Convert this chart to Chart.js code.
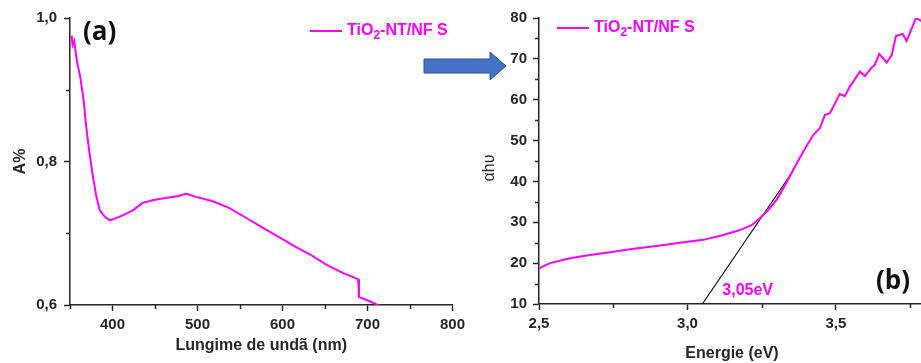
<!DOCTYPE html>
<html>
<head>
<meta charset="utf-8">
<script src="https://cdn.jsdelivr.net/npm/chart.js@4.4.1/dist/chart.umd.min.js"></script>
<style>
  body { margin: 0; background: #fff; }
  .wrap { position: relative; width: 921px; height: 363px; overflow: hidden; background: #fff; }
  #chartA { position: absolute; left: 0; top: 0; }
  #chartB { position: absolute; left: 460px; top: 0; }
  #arrow { position: absolute; left: 0; top: 0; pointer-events: none; }
</style>
</head>
<body>
<div class="wrap">
  <canvas id="chartA" width="470" height="363"></canvas>
  <canvas id="chartB" width="470" height="363"></canvas>
  <svg id="arrow" width="921" height="363">
    <polygon points="424,59 490,59 490,52 506,66 490,80 490,73 424,73" fill="#4472C4" stroke="#2F528F" stroke-width="1"/>
  </svg>
</div>
<script>
// (a) absorbance spectrum
const wavelength = [350, 352, 353, 355, 358, 362, 366, 369, 373, 377, 381, 385, 391, 397, 402, 412, 424, 435, 447, 462, 478, 486, 490, 497, 517, 536, 555, 575, 594, 614, 633, 652, 672, 689, 690, 699, 714];
const absorbance = [0.972, 0.974, 0.962, 0.968, 0.941, 0.918, 0.886, 0.849, 0.811, 0.779, 0.751, 0.732, 0.723, 0.718, 0.720, 0.725, 0.732, 0.742, 0.746, 0.749, 0.752, 0.755, 0.754, 0.751, 0.745, 0.736, 0.723, 0.709, 0.696, 0.682, 0.670, 0.656, 0.644, 0.636, 0.611, 0.607, 0.599];

// (b) Tauc plot
const energy = [2.50, 2.537, 2.604, 2.672, 2.750, 2.806, 2.896, 2.975, 3.053, 3.121, 3.177, 3.216, 3.244, 3.272, 3.300, 3.323, 3.356, 3.390, 3.424, 3.446, 3.463, 3.480, 3.513, 3.530, 3.547, 3.581, 3.598, 3.620, 3.631, 3.646, 3.671, 3.688, 3.702, 3.725, 3.738, 3.769, 3.783, 3.795];
const ahv = [18.7, 20.0, 21.2, 22.0, 22.8, 23.4, 24.2, 25.0, 25.7, 26.9, 28.1, 29.3, 31.0, 33.0, 35.5, 38.3, 42.8, 47.3, 51.4, 53.0, 56.3, 56.7, 61.4, 60.9, 63.2, 66.9, 65.8, 67.9, 68.5, 71.2, 69.1, 70.9, 75.6, 76.1, 74.4, 79.9, 79.5, 78.8];

// linear fit used for the band gap
const tangentE = [3.05, 3.355];
const tangentY = [10, 42.5];
const gapEnergy = 3.05;
const gapLabel = '3,05eV';

const seriesName = ['TiO', '2', '-NT/NF S'];
const magenta = '#FF00FF';
const axisColor = '#262626';
const fontFamily = "'Liberation Sans', Arial, sans-serif";

function toPoints(xs, ys) {
    return xs.map((x, i) => ({ x: x, y: ys[i] }));
}

function comma(v, digits) {
    return v.toFixed(digits).replace('.', ',');
}

// short ticks half way between the labelled ones
const minorTicks = {
    id: 'minorTicks',
    afterDraw(chart) {
        const ctx = chart.ctx;
        ctx.save();
        ctx.strokeStyle = axisColor;
        ctx.lineWidth = 1.5;
        ['x', 'y'].forEach(id => {
            const s = chart.scales[id];
            const step = s.options.ticks.stepSize;
            const vals = s.ticks.map(t => t.value - step / 2);
            vals.push(s.ticks[s.ticks.length - 1].value + step / 2);
            vals.filter(v => v >= s.min - 1e-9 && v <= s.max + 1e-9).forEach(v => {
                const p = Math.round(s.getPixelForValue(v)) + 0.5;
                ctx.beginPath();
                if (id === 'x') {
                    ctx.moveTo(p, s.top);
                    ctx.lineTo(p, s.top + 4);
                } else {
                    ctx.moveTo(s.right, p);
                    ctx.lineTo(s.right - 4, p);
                }
                ctx.stroke();
            });
        });
        ctx.restore();
    }
};

function drawLegend(ctx, x, y) {
    ctx.save();
    ctx.strokeStyle = magenta;
    ctx.lineWidth = 2;
    ctx.beginPath();
    ctx.moveTo(x, y);
    ctx.lineTo(x + 32, y);
    ctx.stroke();
    ctx.fillStyle = magenta;
    ctx.textBaseline = 'middle';
    ctx.textAlign = 'left';
    let tx = x + 37;
    ctx.font = 'bold 16px ' + fontFamily;
    ctx.fillText(seriesName[0], tx, y);
    tx += ctx.measureText(seriesName[0]).width;
    ctx.font = 'bold 12px ' + fontFamily;
    ctx.fillText(seriesName[1], tx, y + 5);
    tx += ctx.measureText(seriesName[1]).width;
    ctx.font = 'bold 16px ' + fontFamily;
    ctx.fillText(seriesName[2], tx, y);
    ctx.restore();
}

function panelLetter(ctx, text, x, y, align) {
    ctx.save();
    ctx.fillStyle = '#111';
    ctx.font = "bold 26px 'Open Sans', " + fontFamily;
    ctx.textAlign = align;
    ctx.textBaseline = 'middle';
    ctx.fillText(text, x, y);
    ctx.restore();
}

function axisOptions(min, max, step, digits, width, title, titleFont, titlePad, isX, tickPad) {
    return {
        type: 'linear',
        min: min,
        max: max,
        afterFit(scale) {
            if (isX) scale.height = width; else scale.width = width;
        },
        border: { display: true, color: axisColor, width: 1.5 },
        grid: { drawOnChartArea: false, drawTicks: true, tickLength: 6, tickWidth: 1.5, color: axisColor },
        ticks: {
            stepSize: step,
            includeBounds: false,
            padding: tickPad,
            color: axisColor,
            font: { family: fontFamily, size: 15, weight: 'bold' },
            callback: v => comma(v, digits)
        },
        title: {
            display: title !== '',
            text: title,
            color: axisColor,
            font: titleFont,
            padding: titlePad
        }
    };
}

const commonPlugins = {
    legend: { display: false },
    tooltip: { enabled: false }
};

// Absorbance vs wavelength
new Chart(document.getElementById('chartA').getContext('2d'), {
    type: 'line',
    data: {
        datasets: [{
            data: toPoints(wavelength, absorbance),
            borderColor: magenta,
            borderWidth: 2,
            pointRadius: 0,
            tension: 0
        }]
    },
    options: {
        responsive: false,
        animation: false,
        layout: { padding: { top: 18, right: 13, left: 0, bottom: 0 } },
        plugins: commonPlugins,
        scales: {
            x: axisOptions(350, 800, 100, 0, 58, 'Lungime de undã (nm)',
                { family: fontFamily, size: 16, weight: 'bold' }, { top: 0, bottom: 8 }, true, 5),
            y: axisOptions(0.6, 1.0, 0.2, 1, 70, 'A%',
                { family: fontFamily, size: 16, weight: 'bold' }, { top: 11, bottom: 0 }, false, 7)
        }
    },
    plugins: [minorTicks, {
        id: 'textA',
        afterDraw(chart) {
            const a = chart.chartArea;
            panelLetter(chart.ctx, '(a)', a.left + 13, a.top + 15, 'left');
            drawLegend(chart.ctx, a.left + 240, a.top + 13);
        }
    }]
});

// Tauc plot with the band gap extrapolation
new Chart(document.getElementById('chartB').getContext('2d'), {
    type: 'line',
    data: {
        datasets: [{
            data: toPoints(energy, ahv),
            borderColor: magenta,
            borderWidth: 2,
            pointRadius: 0,
            tension: 0
        }, {
            data: toPoints(tangentE, tangentY),
            borderColor: '#111',
            borderWidth: 1.2,
            pointRadius: 0,
            tension: 0
        }]
    },
    options: {
        responsive: false,
        animation: false,
        layout: { padding: { top: 18, right: 5, left: 0, bottom: 0 } },
        plugins: commonPlugins,
        scales: {
            x: axisOptions(2.5, 3.8, 0.5, 1, 59, 'Energie (eV)',
                { family: fontFamily, size: 16, weight: 'bold' }, { top: 0, bottom: 0 }, true, 5),
            y: axisOptions(10, 80, 10, 0, 79, '', null, 0, false, 6)
        }
    },
    plugins: [minorTicks, {
        id: 'textB',
        afterDraw(chart) {
            const a = chart.chartArea;
            const ctx = chart.ctx;
            const xs = chart.scales.x;
            const ys = chart.scales.y;
            drawLegend(ctx, a.left + 18, a.top + 10);
            panelLetter(ctx, '(b)', a.right - 15, ys.getPixelForValue(10) - 22, 'right');
            ctx.save();
            ctx.fillStyle = magenta;
            ctx.font = 'bold 16px ' + fontFamily;
            ctx.textBaseline = 'middle';
            ctx.fillText(gapLabel, xs.getPixelForValue(gapEnergy) + 20, ys.getPixelForValue(10) - 13);
            // y axis title, set a little below the middle of the axis
            ctx.fillStyle = axisColor;
            ctx.font = '16px ' + fontFamily;
            ctx.textAlign = 'center';
            ctx.translate(30, (a.top + a.bottom) / 2 + 7);
            ctx.rotate(-Math.PI / 2);
            ctx.fillText('αhυ', 0, 0);
            ctx.restore();
        }
    }]
});
</script>
</body>
</html>
